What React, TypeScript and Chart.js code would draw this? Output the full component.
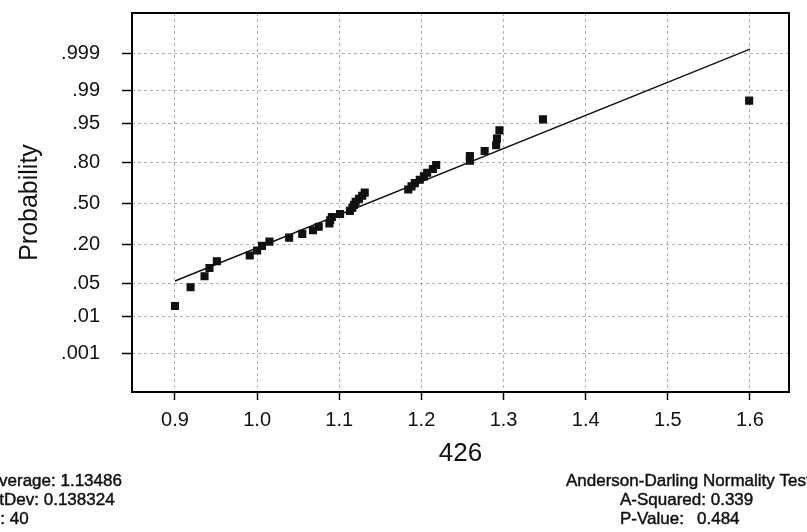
import React, { useEffect, useRef } from "react";
import { Chart, registerables } from "chart.js";

Chart.register(...registerables);

// ---- data ----
const xValues = [
  0.9, 0.919, 0.936, 0.942, 0.951, 0.991, 1.0, 1.006, 1.015, 1.039,
  1.055, 1.068, 1.075, 1.088, 1.089, 1.091, 1.101, 1.113, 1.116, 1.118,
  1.12, 1.124, 1.128, 1.131, 1.184, 1.188, 1.192, 1.198, 1.203, 1.207,
  1.214, 1.218, 1.259, 1.259, 1.277, 1.291, 1.292, 1.295, 1.348, 1.599,
];
const probValues = [
  0.0173, 0.0421, 0.0668, 0.0916, 0.1163, 0.1411, 0.1658, 0.1906, 0.2153, 0.2401,
  0.2649, 0.2896, 0.3144, 0.3391, 0.3639, 0.3886, 0.4134, 0.4381, 0.4629, 0.4876,
  0.5124, 0.5371, 0.5619, 0.5866, 0.6114, 0.6361, 0.6609, 0.6856, 0.7104, 0.7351,
  0.7599, 0.7847, 0.8094, 0.8342, 0.8589, 0.8837, 0.9084, 0.9332, 0.9579, 0.9827,
];
const fitX = [0.9, 1.6];
const fitProb = [0.0549, 0.99925];

const xTicks = [0.9, 1.0, 1.1, 1.2, 1.3, 1.4, 1.5, 1.6];
const yTickProbs = [0.001, 0.01, 0.05, 0.2, 0.5, 0.8, 0.95, 0.99, 0.999];
const yTickLabels = [".001", ".01", ".05", ".20", ".50", ".80", ".95", ".99", ".999"];

const xTitle = "426";
const yTitle = "Probability";
const statsLeft = ["Average: 1.13486", "StDev: 0.138324", "N: 40"];
const statsRight = ["Anderson-Darling Normality Test", "A-Squared: 0.339", "P-Value:"];
const pValueText = "0.484";

// inverse standard normal CDF (probability-axis transform)
function probit(p: number): number {
  const a = [-3.969683028665376e1, 2.209460984245205e2, -2.759285104469687e2, 1.38357751867269e2, -3.066479806614716e1, 2.506628277459239];
  const b = [-5.447609879822406e1, 1.615858368580409e2, -1.556989798598866e2, 6.680131188771972e1, -1.328068155288572e1];
  const c = [-7.784894002430293e-3, -3.223964580411365e-1, -2.400758277161838, -2.549732539343734, 4.374664141464968, 2.938163982698783];
  const d = [7.784695709041462e-3, 3.224671290700398e-1, 2.445134137142996, 3.754408661907416];
  const plow = 0.02425;
  const phigh = 1 - plow;
  if (p < plow) {
    const q = Math.sqrt(-2 * Math.log(p));
    return (((((c[0] * q + c[1]) * q + c[2]) * q + c[3]) * q + c[4]) * q + c[5]) /
      ((((d[0] * q + d[1]) * q + d[2]) * q + d[3]) * q + 1);
  }
  if (p <= phigh) {
    const q = p - 0.5;
    const r = q * q;
    return ((((((a[0] * r + a[1]) * r + a[2]) * r + a[3]) * r + a[4]) * r + a[5]) * q) /
      (((((b[0] * r + b[1]) * r + b[2]) * r + b[3]) * r + b[4]) * r + 1);
  }
  const q = Math.sqrt(-2 * Math.log(1 - p));
  return -(((((c[0] * q + c[1]) * q + c[2]) * q + c[3]) * q + c[4]) * q + c[5]) /
    ((((d[0] * q + d[1]) * q + d[2]) * q + d[3]) * q + 1);
}

const FONT = '"Liberation Sans", Arial, sans-serif';

const framePlugin = {
  id: "frameAndStats",
  afterDraw(chart: any) {
    const { ctx, chartArea } = chart;
    const { left, top, right, bottom } = chartArea;
    ctx.save();
    ctx.strokeStyle = "#000";
    ctx.lineWidth = 2;
    ctx.setLineDash([]);
    ctx.strokeRect(left, top, right - left, bottom - top);

    ctx.fillStyle = "#111";
    ctx.strokeStyle = "#111";
    ctx.lineWidth = 0.45;
    ctx.font = `17px ${FONT}`;
    ctx.textBaseline = "middle";
    ctx.textAlign = "left";
    const ys = [481, 500, 519];
    const put = (t: string, x: number, y: number) => {
      ctx.fillText(t, x, y);
      ctx.strokeText(t, x, y);
    };
    statsLeft.forEach((t, i) => put(t, -12, ys[i]));
    put(statsRight[0], 566, ys[0]);
    put(statsRight[1], 620, ys[1]);
    put(statsRight[2], 620, ys[2]);
    put(pValueText, 697, ys[2]);
    ctx.restore();
  },
};

export default function App() {
  const ref = useRef<HTMLCanvasElement | null>(null);

  useEffect(() => {
    document.body.style.margin = "0";
    const canvas = ref.current;
    if (!canvas) return;
    const points = xValues.map((x, i) => ({ x, y: probit(probValues[i]) }));
    const fit = fitX.map((x, i) => ({ x, y: probit(fitProb[i]) }));

    const chart = new Chart(canvas, {
      type: "scatter",
      data: {
        datasets: [
          {
            type: "line",
            data: fit,
            borderColor: "#111",
            borderWidth: 1.4,
            pointRadius: 0,
            fill: false,
            order: 2,
          } as any,
          {
            data: points,
            pointStyle: "rect",
            pointRadius: 4.8,
            backgroundColor: "#111",
            borderColor: "#111",
            borderWidth: 1.3,
            order: 1,
          } as any,
        ],
      },
      options: {
        responsive: false,
        animation: false,
        devicePixelRatio: 1,
        layout: { padding: { left: 0, top: 13, right: 18, bottom: 0 } },
        plugins: { legend: { display: false }, tooltip: { enabled: false } },
        scales: {
          x: {
            type: "linear",
            position: "bottom",
            min: 0.8477,
            max: 1.6475,
            afterBuildTicks: (s: any) => {
              s.ticks = xTicks.map((v) => ({ value: v }));
            },
            afterFit: (s: any) => {
              s.height = 140;
              s.paddingLeft = 0;
              s.paddingRight = 0;
            },
            ticks: {
              color: "#111",
              font: { family: FONT, size: 20 },
              padding: 8,
              maxRotation: 0,
              autoSkip: false,
              callback: (v: any) => Number(v).toFixed(1),
            },
            grid: {
              color: "rgba(0,0,0,0.3)",
              lineWidth: 1,
              tickLength: 8,
              tickColor: "#000",
              tickWidth: 1.5,
            },
            border: { display: false, dash: [3, 3] },
            title: {
              display: true,
              text: xTitle,
              color: "#111",
              font: { family: FONT, size: 26 },
              padding: { top: 0, bottom: 63 },
            },
          },
          y: {
            type: "linear",
            position: "left",
            min: -3.883,
            max: 3.916,
            afterBuildTicks: (s: any) => {
              s.ticks = yTickProbs.map((p) => ({ value: probit(p) }));
            },
            afterFit: (s: any) => {
              s.width = 132;
              s.paddingTop = 0;
              s.paddingBottom = 0;
            },
            ticks: {
              color: "#111",
              font: { family: FONT, size: 20 },
              padding: 22,
              autoSkip: false,
              callback: (_v: any, i: number) => yTickLabels[i],
            },
            grid: {
              color: "rgba(0,0,0,0.3)",
              lineWidth: 1,
              tickLength: 10,
              tickColor: "#000",
              tickWidth: 1.5,
            },
            border: { display: false, dash: [3, 3] },
            title: {
              display: true,
              text: yTitle,
              color: "#111",
              font: { family: FONT, size: 25 },
              padding: { top: 15, bottom: 0 },
            },
          },
        },
      },
      plugins: [framePlugin],
    });
    return () => chart.destroy();
  }, []);

  return (
    <div style={{ width: 807, height: 532, background: "#fff" }}>
      <canvas ref={ref} width={807} height={532} style={{ display: "block" }} />
    </div>
  );
}
